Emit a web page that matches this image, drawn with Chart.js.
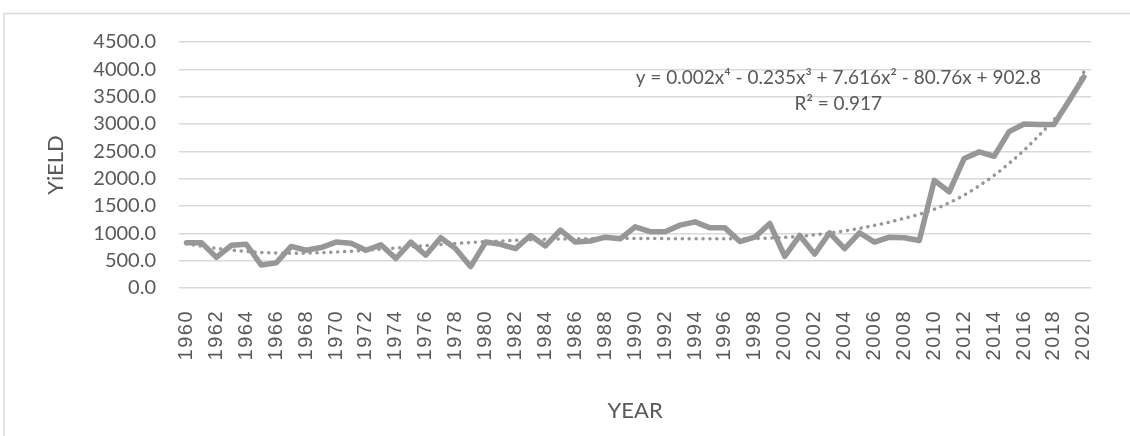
<!DOCTYPE html>
<html>
<head>
<meta charset="utf-8">
<script src="https://cdn.jsdelivr.net/npm/chart.js@4/dist/chart.umd.min.js"></script>
<style>
  html, body { margin: 0; padding: 0; background: #ffffff; overflow: hidden; }
  #wrap { position: absolute; left: 0; top: 0; width: 1130px; height: 436px; }
</style>
</head>
<body>
<div id="wrap"><canvas id="c" width="1130" height="436"></canvas></div>
<script>
// ---- data ----
const years = [];
for (let y = 1960; y <= 2020; y++) years.push(String(y));

const yieldValues = [
  830, 830, 560, 780, 800, 420, 460, 760, 690, 740,
  840, 820, 690, 790, 540, 840, 600, 920, 720, 390,
  840, 800, 720, 960, 770, 1060, 840, 860, 930, 900,
  1120, 1030, 1030, 1150, 1210, 1100, 1100, 850, 930, 1180,
  580, 960, 620, 1010, 720, 1010, 840, 930, 920, 870,
  1970, 1760, 2370, 2490, 2410, 2860, 3000, 2990, 2990, 3420,
  3860
];

const trendValues = [
  810, 765, 725, 695, 670, 650, 640, 635, 638, 645,
  658, 672, 690, 710, 732, 755, 775, 795, 815, 832,
  848, 860, 872, 882, 890, 896, 900, 903, 905, 906,
  906, 905, 903, 901, 900, 899, 899, 901, 906, 914,
  926, 945, 972, 1005, 1045, 1090, 1145, 1205, 1275, 1350,
  1440, 1560, 1700, 1870, 2060, 2280, 2520, 2790, 3080, 3400,
  3950
];

const yTicks = [0, 500, 1000, 1500, 2000, 2500, 3000, 3500, 4000, 4500];
const equationLines = ["y = 0.002x\u2074 - 0.235x\u00B3 + 7.616x\u00B2 - 80.76x + 902.8", "R\u00B2 = 0.917"];

// ---- styling ----
const TEXT = '#595959';
const GRID = '#d9d9d9';
const LINE = '#979797';
const FONT = 'Lato, "Open Sans", sans-serif';

const framePlugin = {
  id: 'frame',
  beforeDraw(chart) {
    const ctx = chart.ctx;
    ctx.save();
    ctx.strokeStyle = '#d9d9d9';
    ctx.lineWidth = 1.5;
    ctx.strokeRect(4, 13.5, 2000, 2000);
    ctx.restore();
    // wider letter spacing for the rotated year labels only
    const xs = chart.scales.x;
    if (xs && !xs._spacedLabels) {
      const orig = xs.drawLabels.bind(xs);
      xs.drawLabels = function (area) {
        const c = chart.ctx;
        const prev = c.letterSpacing;
        c.letterSpacing = '1.5px';
        orig(area);
        c.letterSpacing = prev || '0px';
      };
      xs._spacedLabels = true;
    }
  }
};

const equationPlugin = {
  id: 'equation',
  afterDatasetsDraw(chart) {
    const a = chart.chartArea;
    const ctx = chart.ctx;
    ctx.save();
    ctx.fillStyle = TEXT;
    ctx.font = '19px ' + FONT;
    ctx.textAlign = 'center';
    ctx.textBaseline = 'middle';
    const cx = a.right - 253;
    ctx.fillText(equationLines[0], cx, a.top + 36);
    ctx.fillText(equationLines[1], cx, a.top + 62);
    ctx.restore();
  }
};

new Chart(document.getElementById('c'), {
  type: 'line',
  data: {
    labels: years,
    datasets: [
      {
        label: 'YiELD',
        data: yieldValues,
        borderColor: LINE,
        borderWidth: 5.5,
        pointRadius: 0,
        borderJoinStyle: 'round',
        borderCapStyle: 'round',
        tension: 0,
        fill: false,
        order: 1
      },
      {
        label: 'Poly. (YiELD)',
        data: trendValues,
        borderColor: LINE,
        borderWidth: 3.5,
        borderDash: [0.1, 6.8],
        borderCapStyle: 'round',
        pointRadius: 0,
        cubicInterpolationMode: 'monotone',
        fill: false,
        order: 2
      }
    ]
  },
  options: {
    responsive: false,
    animation: false,
    devicePixelRatio: 1,
    layout: { padding: { left: 0, right: 17, top: 42, bottom: 0 } },
    plugins: {
      legend: { display: false },
      tooltip: { enabled: false },
      title: { display: false }
    },
    scales: {
      x: {
        type: 'category',
        offset: true,
        grid: { display: false, drawTicks: false },
        border: { display: false },
        ticks: {
          autoSkip: false,
          maxRotation: 90,
          minRotation: 90,
          padding: 22,
          color: TEXT,
          font: { family: '"Liberation Sans", Arial, sans-serif', size: 20 },
          callback: function (v, i) { return i % 2 === 0 ? years[i] : ''; }
        },
        title: {
          display: true,
          text: 'YEAR',
          color: TEXT,
          font: { family: FONT, size: 22 },
          padding: { top: 0, bottom: 12 }
        },
        afterFit(scale) { scale.height = 148; }
      },
      y: {
        min: 0,
        max: 4500,
        afterBuildTicks(scale) { scale.ticks = yTicks.map(v => ({ value: v })); },
        grid: { color: GRID, lineWidth: 1.5, drawTicks: false },
        border: { display: false },
        ticks: {
          padding: 23,
          color: TEXT,
          font: { family: FONT, size: 20 },
          callback: v => Number(v).toFixed(1)
        },
        title: {
          display: true,
          text: 'YiELD',
          color: TEXT,
          font: { family: FONT, size: 22 },
          padding: { top: 43, bottom: 0 }
        },
        afterFit(scale) { scale.width = 179; }
      }
    }
  },
  plugins: [framePlugin, equationPlugin]
});
</script>
</body>
</html>
